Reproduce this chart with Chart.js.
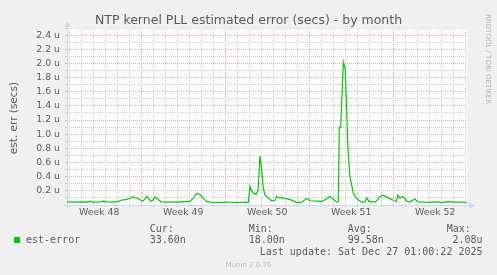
<!DOCTYPE html>
<html><head><meta charset="utf-8">
<script src="https://cdn.jsdelivr.net/npm/chart.js@4/dist/chart.umd.min.js"></script>
<style>html,body{margin:0;padding:0;background:#f0f0f0;overflow:hidden}canvas{display:block}</style>
</head><body>
<canvas id="c" width="497" height="275"></canvas>
<script>
// ---- data (x in days since start of graph window, y in nanoseconds) ----
const days = [0,0.67,1.25,1.75,1.92,2.17,2.75,3.0,3.33,3.75,4.25,4.58,5.0,5.25,5.5,5.83,6.08,6.33,6.67,6.98,7.17,7.33,7.58,7.83,8.33,9.0,9.58,10.25,10.58,10.83,11.08,11.33,11.64,12.08,12.75,13.42,14.0,14.58,15.11,15.25,15.39,15.53,15.75,15.92,16.08,16.22,16.36,16.5,16.78,17.06,17.33,17.47,17.67,17.89,18.17,18.58,19.14,19.58,19.98,20.25,20.81,21.25,21.58,21.92,22.19,22.48,22.61,22.69,22.81,23.03,23.19,23.42,23.58,23.86,24.08,24.28,24.58,24.83,24.97,25.17,25.67,25.92,26.08,26.36,26.58,26.92,27.25,27.47,27.56,27.75,27.98,28.17,28.31,28.58,29.0,29.25,29.83,30.25,30.83,31.25,31.75,32.33,32.92,33.31];
const estErrorNs = [45,42,45,40,55,42,45,55,45,40,48,70,80,95,115,95,75,55,120,50,70,115,80,45,40,40,45,50,110,165,145,100,50,38,35,42,35,38,38,260,200,170,150,200,690,500,240,140,100,60,65,125,100,105,90,80,35,40,95,60,55,50,80,120,80,40,45,1100,1100,2020,1910,780,400,170,100,70,40,40,100,50,40,80,120,140,115,90,60,50,140,100,120,90,55,45,85,45,40,38,45,35,48,40,42,34];

const weekLabels = ['Week 48','Week 49','Week 50','Week 51','Week 52'];
const weekLabelDays = [2.69, 9.69, 16.69, 23.69, 30.69];
const weekStartDays = [6.19, 13.19, 20.19, 27.19];
const firstDayLine = 0.19;
const spanDays = 400/12;
const yMaxNs = 2500;
const yStepNs = 100;

const statHeaders = ['Cur:','Min:','Avg:','Max:'];
const statValues = ['33.60n','18.00n','99.58n','2.08u'];
const seriesName = 'est-error';
const lastUpdate = 'Last update: Sat Dec 27 01:00:22 2025';

// ---- tick lists ----
const dayLines = [];
for (let d = firstDayLine; d <= spanDays; d += 1) dayLines.push(+d.toFixed(2));
const xTicks = dayLines.concat(weekLabelDays).sort((a,b)=>a-b);
const yTicks = [];
for (let v = 0; v <= yMaxNs; v += yStepNs) yTicks.push(v);

const isLabelDay = v => weekLabelDays.some(w => Math.abs(w - v) < 1e-6);
const isWeekStart = v => weekStartDays.some(w => Math.abs(w - v) < 1e-6);

const GRID = 'rgba(205,205,205,1)';
const MGRID = 'rgba(236,168,168,1)';
const AXIS = '#cfd6f8';
const FONT = '#5a5a5a';

const bgPlugin = {
  id: 'bg',
  beforeDraw(chart) {
    const {ctx, chartArea: a} = chart;
    ctx.save();
    ctx.fillStyle = '#f0f0f0';
    ctx.fillRect(0, 0, chart.width, chart.height);
    ctx.fillStyle = '#ffffff';
    ctx.fillRect(a.left, a.top, a.right - a.left, a.bottom - a.top);
    ctx.restore();
  },
  beforeDatasetsDraw(chart) {
    const {ctx, chartArea: a} = chart;
    ctx.save();
    ctx.strokeStyle = AXIS; ctx.fillStyle = AXIS; ctx.lineWidth = 1;
    ctx.beginPath(); ctx.moveTo(a.left + 0.5, a.bottom + 3); ctx.lineTo(a.left + 0.5, a.top - 2); ctx.stroke();
    ctx.beginPath(); ctx.moveTo(a.left + 0.5, a.top - 7); ctx.lineTo(a.left - 2.5, a.top - 1); ctx.lineTo(a.left + 3.5, a.top - 1); ctx.closePath(); ctx.fill();
    ctx.beginPath(); ctx.moveTo(a.left - 3, a.bottom + 0.5); ctx.lineTo(a.right + 3, a.bottom + 0.5); ctx.stroke();
    ctx.beginPath(); ctx.moveTo(a.right + 8, a.bottom + 0.5); ctx.lineTo(a.right + 2, a.bottom - 2.5); ctx.lineTo(a.right + 2, a.bottom + 3.5); ctx.closePath(); ctx.fill();
    ctx.restore();
  },
  afterDraw(chart) {
    const {ctx} = chart;
    ctx.save();
    ctx.fillStyle = FONT;
    ctx.font = '12.5px "DejaVu Sans"';
    ctx.textAlign = 'center'; ctx.textBaseline = 'alphabetic';
    ctx.fillText('NTP kernel PLL estimated error (secs) - by month', 248.5, 23.5);
    ctx.save();
    ctx.translate(16.5, 118); ctx.rotate(-Math.PI/2);
    ctx.font = '10.5px "DejaVu Sans"';
    ctx.textAlign = 'center'; ctx.textBaseline = 'alphabetic';
    ctx.fillText('est. err (secs)', 0, 0);
    ctx.restore();
    ctx.save();
    ctx.translate(485.5, 14); ctx.rotate(Math.PI/2);
    ctx.fillStyle = '#b8b8b8';
    ctx.font = '7px "DejaVu Sans"';
    ctx.textAlign = 'left'; ctx.textBaseline = 'alphabetic';
    ctx.fillText('RRDTOOL / TOBI OETIKER', 0, 0);
    ctx.restore();
    ctx.font = '10px "DejaVu Sans Mono"';
    ctx.fillStyle = FONT;
    ctx.textAlign = 'left';
    const colX = [149.7, 248.7, 347.7, 446.7];
    statHeaders.forEach((h, i) => ctx.fillText(h, colX[i], 231.5));
    ctx.fillStyle = '#00cc00';
    ctx.fillRect(14, 237, 6, 6);
    ctx.fillStyle = FONT;
    ctx.fillText(seriesName, 26, 243);
    statValues.forEach((v, i) => {
      if (i === statValues.length - 1) { ctx.textAlign = 'right'; ctx.fillText(v, 482.5, 243); ctx.textAlign = 'left'; }
      else ctx.fillText(v, colX[i], 243);
    });
    ctx.textAlign = 'right';
    ctx.fillText(lastUpdate, 482.5, 254.5);
    ctx.textAlign = 'center';
    ctx.fillStyle = '#bdbdbd';
    ctx.font = '7px "DejaVu Sans"';
    ctx.fillText('Munin 2.0.76', 248.5, 267);
    ctx.restore();
  }
};

new Chart(document.getElementById('c'), {
  type: 'line',
  data: {
    datasets: [{
      label: seriesName,
      data: days.map((d, i) => ({x: d, y: estErrorNs[i]})),
      borderColor: '#00cc00',
      borderWidth: 1.2,
      pointRadius: 0,
      tension: 0,
      fill: false
    }]
  },
  options: {
    responsive: false,
    animation: false,
    devicePixelRatio: 1,
    layout: {padding: {left: 0, right: 30, top: 28, bottom: 0}},
    plugins: {legend: {display: false}, tooltip: {enabled: false}, title: {display: false}},
    scales: {
      x: {
        type: 'linear', min: 0, max: spanDays,
        afterBuildTicks: s => { s.ticks = xTicks.map(v => ({value: v})); },
        afterFit: s => { s.height = 70; },
        ticks: {
          autoSkip: false, maxRotation: 0, minRotation: 0, padding: 0,
          color: FONT, font: {family: 'DejaVu Sans', size: 9.33},
          callback: v => { const i = weekLabelDays.findIndex(w => Math.abs(w - v) < 1e-6); return i >= 0 ? weekLabels[i] : ''; }
        },
        grid: {
          lineWidth: 1, drawTicks: true, tickLength: 2,
          color: c => (c.tick && isLabelDay(c.tick.value)) ? 'rgba(0,0,0,0)' : (c.tick && isWeekStart(c.tick.value) ? MGRID : GRID),
          tickColor: c => (c.tick && isLabelDay(c.tick.value)) ? 'rgba(0,0,0,0)' : (c.tick && isWeekStart(c.tick.value) ? MGRID : GRID)
        },
        border: {display: false, dash: [1, 1]}
      },
      y: {
        min: 0, max: yMaxNs,
        afterBuildTicks: s => { s.ticks = yTicks.map(v => ({value: v})); },
        afterFit: s => { s.width = 67; },
        ticks: {
          autoSkip: false, padding: 5,
          color: FONT, font: {family: 'DejaVu Sans', size: 9.33},
          callback: v => (v > 0 && v % 200 === 0) ? (v / 1000).toFixed(1) + ' u' : ''
        },
        grid: {
          lineWidth: 1, drawTicks: true, tickLength: 2,
          color: c => (!c.tick || c.tick.value === 0) ? 'rgba(0,0,0,0)' : (c.tick.value % 200 === 0 ? MGRID : GRID),
          tickColor: c => (!c.tick || c.tick.value === 0) ? 'rgba(0,0,0,0)' : (c.tick.value % 200 === 0 ? MGRID : GRID)
        },
        border: {display: false, dash: [1, 1]}
      }
    }
  },
  plugins: [bgPlugin]
});
</script>
</body></html>
